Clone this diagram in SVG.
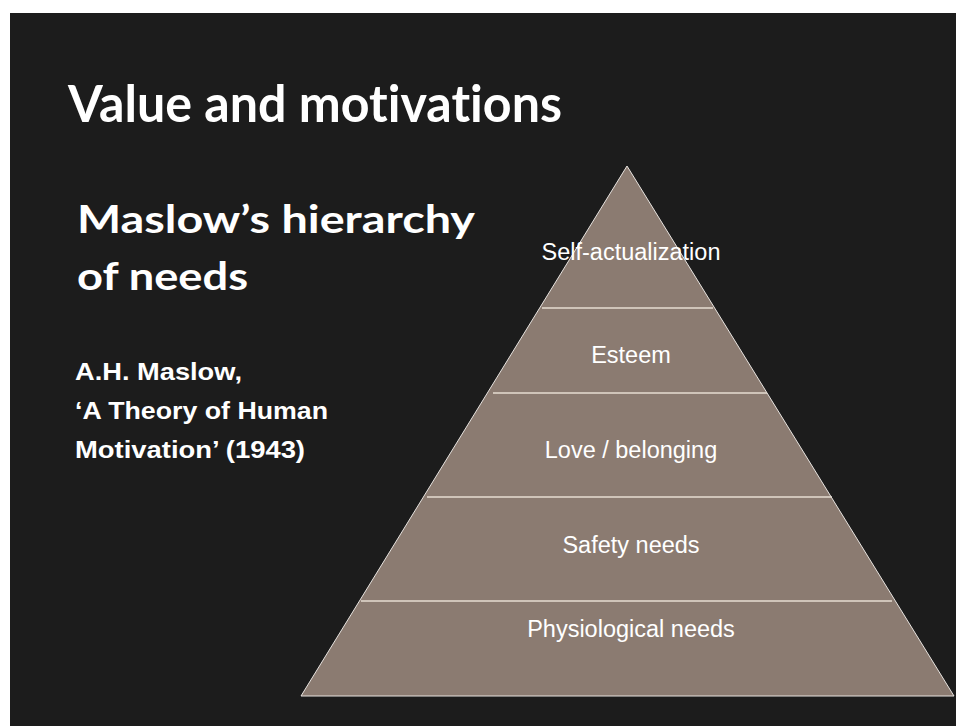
<svg xmlns="http://www.w3.org/2000/svg" width="956" height="726" viewBox="0 0 956 726">
  <style>
    .bg { fill: #1c1c1c; }
    .title { font-family: Lato, "Liberation Sans", Arial, sans-serif; font-weight: bold; fill: #ffffff; font-variant-ligatures: none; font-feature-settings: "liga" 0, "dlig" 0; }
    .cite { font-family: "Liberation Sans", Arial, sans-serif; font-weight: bold; fill: #ffffff; font-size: 24px; }
    .level { font-family: "Liberation Sans", Arial, sans-serif; font-size: 23.5px; fill: #ffffff; text-anchor: middle; }
    .pyramid { fill: #8b7b71; stroke: #e8e4e0; stroke-width: 1; }
    .divider { stroke: #e6dcd2; stroke-width: 1.5; }
  </style>

  <!-- slide background -->
  <rect x="0" y="0" width="956" height="726" fill="#ffffff"/>
  <rect class="bg" x="10" y="13" width="946" height="713"/>

  <!-- headings -->
  <g id="heading">
    <text class="title" x="68" y="122" font-size="52" textLength="494" lengthAdjust="spacingAndGlyphs">Value and motivations</text>
    <text class="title" x="77" y="233" font-size="39" textLength="398" lengthAdjust="spacingAndGlyphs">Maslow’s hierarchy</text>
    <text class="title" x="77" y="290" font-size="39" textLength="171" lengthAdjust="spacingAndGlyphs">of needs</text>
  </g>

  <g id="citation">
    <text class="cite" x="75" y="380" textLength="167" lengthAdjust="spacingAndGlyphs">A.H. Maslow,</text>
    <text class="cite" x="75" y="419" textLength="253" lengthAdjust="spacingAndGlyphs">‘A Theory of Human</text>
    <text class="cite" x="75" y="458" textLength="230" lengthAdjust="spacingAndGlyphs">Motivation’ (1943)</text>
  </g>

  <!-- pyramid body -->
  <g id="pyramid">
    <polygon class="pyramid" points="627,166 301,696 954,696"/>
  </g>

  <!-- level dividers -->
  <g id="dividers">
    <line class="divider" x1="542" y1="308" x2="713" y2="308"/>
    <line class="divider" x1="493" y1="393" x2="767" y2="393"/>
    <line class="divider" x1="427" y1="497" x2="832" y2="497"/>
    <line class="divider" x1="361" y1="601" x2="892" y2="601"/>
  </g>

  <!-- level labels -->
  <g id="self-actualization"><text class="level" x="631" y="260">Self-actualization</text></g>
  <g id="esteem"><text class="level" x="631" y="363">Esteem</text></g>
  <g id="love-belonging"><text class="level" x="631" y="458">Love / belonging</text></g>
  <g id="safety"><text class="level" x="631" y="553">Safety needs</text></g>
  <g id="physiological"><text class="level" x="631" y="637">Physiological needs</text></g>
</svg>
